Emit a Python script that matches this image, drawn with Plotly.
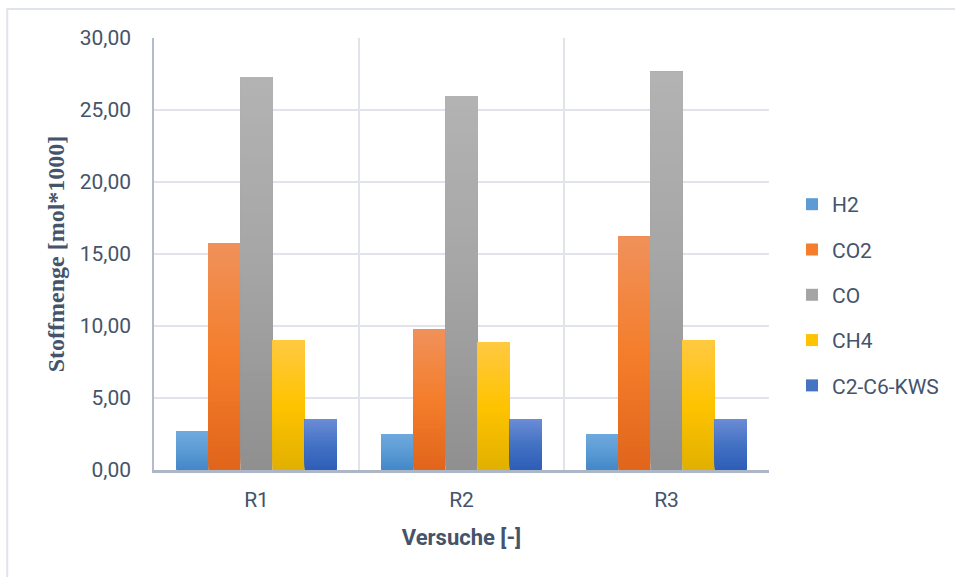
import plotly.graph_objects as go

# Versuche (x categories)
categories = ["R1", "R2", "R3"]

# Stoffmenge je Gas in mol*1000
h2 = [2.65, 2.50, 2.50]
co2 = [15.75, 9.75, 16.20]
co = [27.30, 25.95, 27.65]
ch4 = [9.00, 8.85, 9.00]
c2c6 = [3.50, 3.55, 3.55]

series_names = ["H2", "CO2", "CO", "CH4", "C2-C6-KWS"]
series_values = [h2, co2, co, ch4, c2c6]

# gradient stops per series: bottom (shade), middle (base), top (tint)
gradients = [
    ("#4487c7", "#5b9bd5", "#6fa9de"),
    ("#e1651b", "#f47e2b", "#f0915b"),
    ("#8f8f8f", "#a5a5a5", "#b3b3b3"),
    ("#e1b000", "#ffc300", "#ffc942"),
    ("#2e5db8", "#4472c4", "#6b8cd6"),
]

TEXT = "#44546a"
N_STEPS = 40


def hex_to_rgb(h):
    h = h.lstrip("#")
    return tuple(int(h[i:i + 2], 16) for i in (0, 2, 4))


def blend(c0, c1, t):
    a, b = hex_to_rgb(c0), hex_to_rgb(c1)
    return "rgb({},{},{})".format(*[round(a[i] + (b[i] - a[i]) * t) for i in range(3)])


def gradient_color(stops, t):
    bottom, mid, top = stops
    if t < 0.5:
        return blend(bottom, mid, t / 0.5)
    return blend(mid, top, (t - 0.5) / 0.5)


fig = go.Figure()

# each bar is layered from bottom to top: every layer runs up to the bar's
# value and covers the upper part of the one below, giving a vertical fade
for rank, (name, values, stops) in enumerate(zip(series_names, series_values, gradients)):
    for k in range(N_STEPS):
        t = (k + 0.5) / N_STEPS
        fig.add_trace(go.Bar(
            x=categories,
            y=[v * (N_STEPS - k) / N_STEPS for v in values],
            base=[v * k / N_STEPS for v in values],
            offsetgroup=name,
            legendgroup=name,
            name=name,
            showlegend=(k == N_STEPS // 2),
            legendrank=rank + 1,
            marker=dict(color=gradient_color(stops, t), line=dict(width=0)),
            customdata=values,
            hovertemplate="%{x}: %{customdata:.2f}<extra>" + name + "</extra>",
        ))

fig.update_layout(
    width=955,
    height=577,
    margin=dict(l=154, r=185, t=38, b=107),
    paper_bgcolor="white",
    plot_bgcolor="white",
    barmode="group",
    bargap=0.216,
    bargroupgap=0,
    separators=",.",
    font=dict(family="Roboto", size=21, color=TEXT),
    showlegend=True,
    legend=dict(
        x=1.0357, xanchor="left",
        y=0.405, yanchor="middle",
        font=dict(family="Roboto", size=21, color=TEXT),
        tracegroupgap=15,
        bgcolor="rgba(0,0,0,0)",
    ),
    xaxis=dict(
        type="category",
        tickson="boundaries",
        showgrid=True,
        gridcolor="#e0e3ea",
        gridwidth=2,
        showline=True,
        linecolor="#adb6c6",
        linewidth=2.5,
        ticks="",
        ticklabelstandoff=9,
        tickfont=dict(family="Roboto", size=21, color=TEXT),
        title=dict(
            text="<b>Versuche [-]</b>",
            font=dict(family="Roboto", size=22, color=TEXT),
            standoff=19,
        ),
    ),
    yaxis=dict(
        range=[0, 30],
        dtick=5,
        tickformat=".2f",
        showgrid=True,
        gridcolor="#e0e3ea",
        gridwidth=2,
        zeroline=False,
        showline=True,
        linecolor="#b4bccb",
        linewidth=1.5,
        ticks="",
        ticklabelstandoff=17,
        tickfont=dict(family="Roboto", size=21, color=TEXT),
        title=dict(
            text="<b>Stoffmenge [mol*1000]</b>",
            font=dict(family="Liberation Serif", size=24, color=TEXT),
            standoff=8,
        ),
    ),
    shapes=[
        dict(
            type="rect", xref="paper", yref="paper",
            x0=(7 - 154) / 616, x1=(975 - 154) / 616,
            y0=(470 - 600) / 432, y1=(470 - 9) / 432,
            line=dict(color="#dfe3ea", width=2),
            fillcolor="rgba(0,0,0,0)",
            layer="below",
        )
    ],
)

fig.write_html("out.html")
